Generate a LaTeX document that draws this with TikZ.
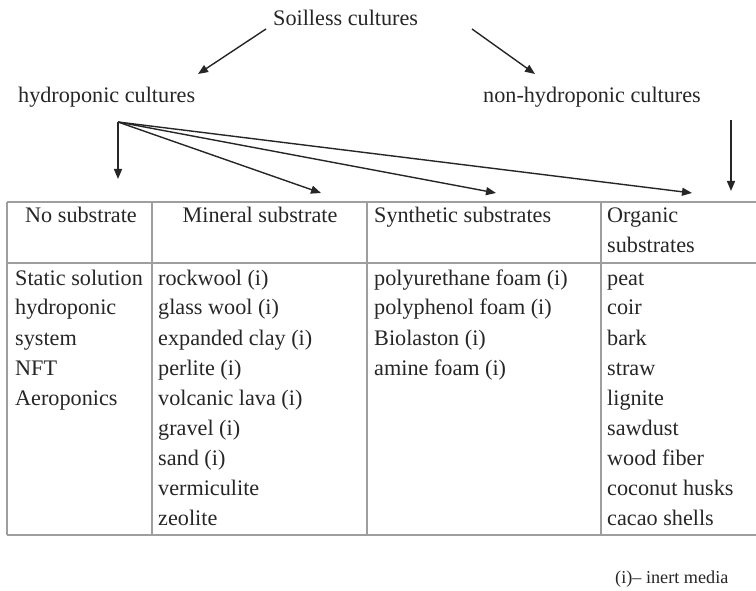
\documentclass[tikz,border=0pt]{standalone}
\usepackage{fontspec}
\setmainfont{Liberation Serif}
\usetikzlibrary{arrows.meta}
\begin{document}
\begin{tikzpicture}[x=1pt,y=-1pt,
  txt/.style={inner sep=0pt,anchor=base west,font=\fontsize{22.2}{26}\selectfont,text=black!85},
  note/.style={inner sep=0pt,anchor=base west,font=\fontsize{18.2}{22}\selectfont,text=black!85},
  arr/.style={line width=1.4pt,draw=black!85,-{Triangle[length=10pt,width=8pt]}},
  gridline/.style={draw=black!38,line width=2pt}]
\useasboundingbox (0,0) rectangle (756,591);
% top labels
\node[txt] (soil) at (273,26) {Soilless cultures};
\node[txt] (hydro) at (18,103) {hydroponic cultures};
\node[txt] (nonhydro) at (483,103) {non-hydroponic cultures};
% connectors from Soilless
\coordinate (sL) at (266,29);
\coordinate (hT) at (198,74);
\coordinate (sR) at (472,29);
\coordinate (nT) at (535,74);
\draw[arr] (sL) -- (hT);
\draw[arr] (sR) -- (nT);
% fan from hydroponic cultures
\coordinate (fan) at (118,122);
\coordinate (t1) at (118,179);
\coordinate (t2) at (321,193);
\coordinate (t3) at (496,193);
\coordinate (t4) at (692,193);
\draw[arr] (fan) -- (t1);
\draw[arr] (fan) -- (t2);
\draw[arr] (fan) -- (t3);
\draw[arr] (fan) -- (t4);
% non-hydroponic down arrow
\coordinate (nd) at (731,120);
\coordinate (ndt) at (731,191);
\draw[arr] (nd) -- (ndt);
% table grid
\draw[gridline] (7,202) -- (756,202);
\draw[gridline] (7,263) -- (756,263);
\draw[gridline] (7,535) -- (756,535);
\draw[gridline] (7,202) -- (7,535);
\draw[gridline] (152,202) -- (152,535);
\draw[gridline] (367,202) -- (367,535);
\draw[gridline] (601,202) -- (601,535);
% headers
\node[txt,anchor=base] (h1) at (81,223) {No substrate};
\node[txt,anchor=base] (h2) at (260,223) {Mineral substrate};
\node[txt] (h3) at (374,223) {Synthetic substrates};
\node[txt] (h4a) at (607,223) {Organic};
\node[txt] (h4b) at (607,253) {substrates};
% column 1
\node[txt] (a1) at (15,285) {Static solution};
\node[txt] (a2) at (15,315) {hydroponic};
\node[txt] (a3) at (15,345) {system};
\node[txt] (a4) at (15,375) {NFT};
\node[txt] (a5) at (15,405) {Aeroponics};
% column 2
\node[txt] (b1) at (158,285) {rockwool (i)};
\node[txt] (b2) at (158,315) {glass wool (i)};
\node[txt] (b3) at (158,345) {expanded clay (i)};
\node[txt] (b4) at (158,375) {perlite (i)};
\node[txt] (b5) at (158,405) {volcanic lava (i)};
\node[txt] (b6) at (158,435) {gravel (i)};
\node[txt] (b7) at (158,465) {sand (i)};
\node[txt] (b8) at (158,495) {vermiculite};
\node[txt] (b9) at (158,525) {zeolite};
% column 3
\node[txt] (c1) at (374,285) {polyurethane foam (i)};
\node[txt] (c2) at (374,315) {polyphenol foam (i)};
\node[txt] (c3) at (374,345) {Biolaston (i)};
\node[txt] (c4) at (374,375) {amine foam (i)};
% column 4
\node[txt] (d1) at (607,285) {peat};
\node[txt] (d2) at (607,315) {coir};
\node[txt] (d3) at (607,345) {bark};
\node[txt] (d4) at (607,375) {straw};
\node[txt] (d5) at (607,405) {lignite};
\node[txt] (d6) at (607,435) {sawdust};
\node[txt] (d7) at (607,465) {wood fiber};
\node[txt] (d8) at (607,495) {coconut husks};
\node[txt] (d9) at (607,525) {cacao shells};
% legend
\node[note] (leg) at (615,583) {(i)– inert media};
\end{tikzpicture}
\end{document}
